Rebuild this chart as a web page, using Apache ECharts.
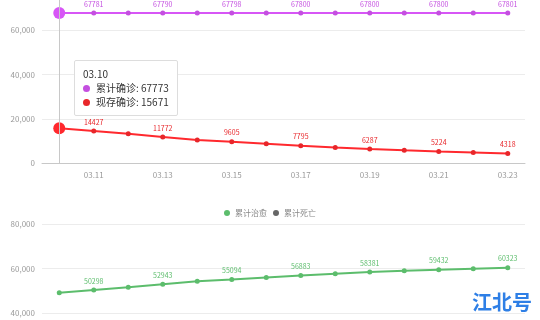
<!DOCTYPE html>
<html lang="zh">
<head>
    <meta charset="UTF-8">
    <title>湖北疫情走势</title>
    <script src="https://cdn.jsdelivr.net/npm/echarts@6/dist/echarts.min.js"></script>
    <style>
        html, body { margin: 0; padding: 0; background: #fff; }
        #main { width: 540px; height: 320px; }
    </style>
</head>
<body>
<div id="main"></div>
<script type="text/javascript">
    // 日期
    var dates = ['03.10', '03.11', '03.12', '03.13', '03.14', '03.15', '03.16',
                 '03.17', '03.18', '03.19', '03.20', '03.21', '03.22', '03.23'];
    // 累计确诊
    var confirmed = [67773, 67781, 67786, 67790, 67794, 67798, 67799,
                     67800, 67800, 67800, 67800, 67800, 67800, 67801];
    // 现存确诊
    var existing = [15671, 14427, 13171, 11772, 10431, 9605, 8701,
                    7795, 6992, 6287, 5719, 5224, 4768, 4318];
    // 累计治愈
    var cured = [49056, 50298, 51553, 52943, 54278, 55094, 55987,
                 56883, 57678, 58381, 58942, 59432, 59879, 60323];
    // 累计死亡
    var deaths = [3046, 3056, 3062, 3075, 3085, 3099, 3111,
                  3122, 3130, 3132, 3139, 3144, 3153, 3160];

    var FONT = '"Noto Sans CJK SC", sans-serif';
    var C_PURPLE = '#c44fe0', C_RED = '#e8262a', C_GREEN = '#5cbd6c', C_GRAY = '#666';

    function firstBig(arr) {
        return arr.map(function (v, i) {
            return i === 0 ? {value: v, symbolSize: 12} : v;
        });
    }
    function oddLabel(p) {
        return p.dataIndex % 2 === 1 ? p.value : '';
    }
    function lineSeries(name, data, color, axis) {
        return {
            name: name,
            type: 'line',
            xAxisIndex: axis,
            yAxisIndex: axis,
            data: data,
            symbol: 'circle',
            symbolSize: 5,
            showAllSymbol: true,
            itemStyle: {color: color},
            lineStyle: {color: color, width: 2},
            emphasis: {scale: false},
            label: {
                show: true,
                position: 'top',
                distance: 3,
                fontSize: 7,
                fontFamily: FONT,
                color: color,
                formatter: oddLabel
            }
        };
    }
    function xAxisOf(idx) {
        return {
            type: 'category',
            gridIndex: idx,
            data: dates,
            boundaryGap: true,
            axisLine: {lineStyle: {color: '#c8c8c8'}},
            axisTick: {alignWithLabel: true, interval: function (i) { return i % 2 === 1; }, lineStyle: {color: '#c8c8c8'}},
            axisLabel: {
                interval: function (i) { return i % 2 === 1; },
                fontSize: 8, color: '#999', fontFamily: FONT, margin: 8
            },
            axisPointer: {show: idx === 0, type: 'line', lineStyle: {color: '#c8c8c8', width: 1, type: 'solid'}, label: {show: false}}
        };
    }
    function yAxisOf(idx) {
        return {
            type: 'value',
            gridIndex: idx,
            min: 0, max: 80000, interval: 20000,
            axisLine: {show: false},
            axisTick: {show: false},
            axisLabel: {fontSize: 8, color: '#999', fontFamily: FONT, margin: 7},
            splitLine: {lineStyle: {color: '#ececec'}}
        };
    }

    var chart = echarts.init(document.getElementById('main'));
    var option = {
        animation: false,
        textStyle: {fontFamily: FONT},
        grid: [
            {left: 42, right: 15, top: -14, height: 177, outerBoundsMode: 'none'},
            {left: 42, right: 15, top: 224, height: 178, outerBoundsMode: 'none'}
        ],
        legend: {
            data: ['累计治愈', '累计死亡'],
            top: 204,
            left: 'center',
            icon: 'circle',
            itemWidth: 6,
            itemHeight: 6,
            itemGap: 6,
            textStyle: {fontSize: 8, color: '#888', fontFamily: FONT}
        },
        tooltip: {
            trigger: 'axis',
            alwaysShowContent: true,
            position: [74, 60],
            backgroundColor: '#fff',
            borderColor: '#ddd',
            borderWidth: 1,
            padding: [6, 8],
            extraCssText: 'box-shadow:none;border-radius:2px;',
            textStyle: {fontSize: 10, color: '#333', fontFamily: FONT},
            formatter: function (ps) {
                var s = '<div style="line-height:14px">' + ps[0].axisValue;
                ps.forEach(function (p) {
                    if (p.axisIndex !== 0) return;
                    s += '<br><span style="display:inline-block;width:7px;height:7px;border-radius:50%;margin-right:6px;background:' +
                        p.color + '"></span>' + p.seriesName + ': ' + (p.value.value !== undefined ? p.value.value : p.value);
                });
                return s + '</div>';
            }
        },
        xAxis: [xAxisOf(0), xAxisOf(1)],
        yAxis: [yAxisOf(0), yAxisOf(1)],
        series: [
            lineSeries('累计确诊', firstBig(confirmed), C_PURPLE, 0),
            lineSeries('现存确诊', firstBig(existing), C_RED, 0),
            lineSeries('累计治愈', cured, C_GREEN, 1),
            lineSeries('累计死亡', deaths, C_GRAY, 1)
        ],
        graphic: [{
            type: 'text',
            right: 8,
            bottom: 8,
            style: {text: '江北号', fontSize: 20, fontWeight: 'bold', fill: '#2e7fe6', fontFamily: FONT}
        }]
    };
    chart.setOption(option);
    chart.dispatchAction({type: 'showTip', seriesIndex: 0, dataIndex: 0});
</script>
</body>
</html>
